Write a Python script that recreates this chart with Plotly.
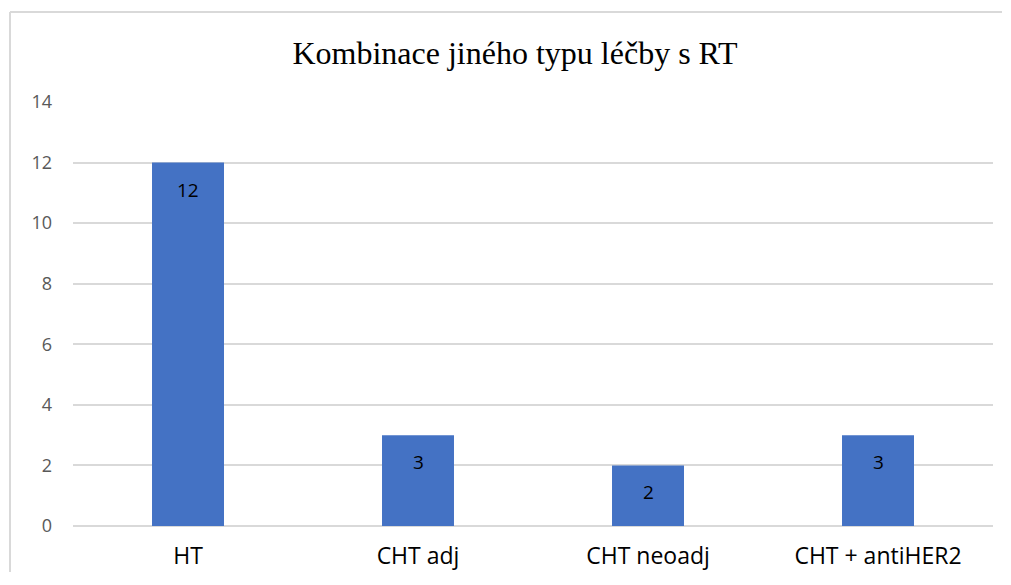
import plotly.graph_objects as go

categories = ["HT", "CHT adj", "CHT neoadj", "CHT + antiHER2"]
values = [12, 3, 2, 3]
title_text = "Kombinace jiného typu léčby s RT"
y_ticks = [0, 2, 4, 6, 8, 10, 12, 14]

W, H = 995, 565
L, R, T, B = 65, 10, 94, 47
PW, PH = W - L - R, H - T - B

fig = go.Figure()
fig.add_trace(go.Bar(
    x=categories, y=values,
    marker=dict(color="#4472C4", line=dict(width=0)),
    hoverinfo="x+y",
))

annotations = [
    dict(x=c, y=v, xref="x", yref="y", text=str(v), showarrow=False,
         yshift=-27, yanchor="middle",
         font=dict(family="Open Sans, Liberation Sans, sans-serif", size=19, color="#000000"))
    for c, v in zip(categories, values)
]

fig.update_layout(
    width=W, height=H,
    margin=dict(l=L, r=R, t=T, b=B, autoexpand=False),
    paper_bgcolor="white", plot_bgcolor="white",
    bargap=0.687,
    showlegend=False,
    annotations=annotations,
    title=dict(text=title_text, x=507 / W, xanchor="center", y=1 - 45 / H, yanchor="middle",
               font=dict(family="Liberation Serif, Times New Roman, serif", size=32, color="#000000")),
    xaxis=dict(showgrid=False, showline=False, ticks="", ticklabelstandoff=14, automargin=False,
               tickfont=dict(family="Open Sans, Liberation Sans, sans-serif", size=23, color="#000000")),
    yaxis=dict(range=[0, 14], tickvals=y_ticks, showgrid=True, gridcolor="#D9D9D9", gridwidth=1.5,
               zeroline=True, zerolinecolor="#D9D9D9", zerolinewidth=1.5, automargin=False,
               showline=False, ticks="", ticklabelstandoff=20,
               tickfont=dict(family="Open Sans, Liberation Sans, sans-serif", size=18, color="#595959")),
    shapes=[
        dict(type="line", xref="paper", yref="paper", x0=(2 - L) / PW, x1=(W - L - 1) / PW,
             y0=1 + (T - 4) / PH, y1=1 + (T - 4) / PH,
             line=dict(color="#D9D9D9", width=2)),
        dict(type="line", xref="paper", yref="paper", x0=(2 - L) / PW, x1=(2 - L) / PW,
             y0=-(B - 1) / PH, y1=1 + (T - 4) / PH,
             line=dict(color="#D9D9D9", width=2)),
    ],
)

fig.write_html("out.html")
